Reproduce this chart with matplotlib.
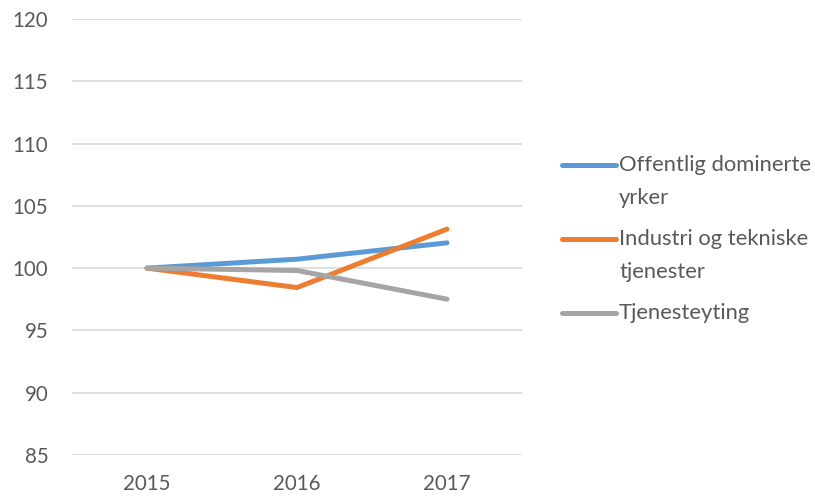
import matplotlib
matplotlib.use("Agg")
import matplotlib.pyplot as plt
from matplotlib.lines import Line2D

years = ["2015", "2016", "2017"]
offentlig = [100, 100.72, 102.03]
industri = [100, 98.44, 103.13]
tjeneste = [100, 99.81, 97.51]
labels = ["Offentlig dominerte\nyrker", "Industri og tekniske\ntjenester", "Tjenesteyting"]
colors = ["#5b9bd5", "#ed7d31", "#a5a5a5"]
yticks = [85, 90, 95, 100, 105, 110, 115, 120]

plt.rcParams['font.family'] = ['Lato', 'DejaVu Sans']
txt = "#595959"

fig = plt.figure(figsize=(8.15, 4.96), dpi=100)
ax = fig.add_axes([72/815, 41/496, 450/815, 436/496])
x = range(len(years))
for vals, c in zip([offentlig, industri, tjeneste], colors):
    ax.plot(x, vals, color=c, lw=3.6, solid_capstyle='round', solid_joinstyle='round')

ax.set_xlim(-0.5, 2.5)
ax.set_ylim(85, 120)
ax.set_yticks(yticks)
ax.set_yticklabels([str(v) for v in yticks])
ax.set_xticks(list(x))
ax.set_xticklabels(years)
ax.grid(axis='y', color='#d9d9d9', lw=1.2)
ax.set_axisbelow(True)
for s in ax.spines.values():
    s.set_visible(False)
ax.tick_params(axis='both', length=0, labelsize=14.8, colors=txt)
ax.tick_params(axis='y', pad=17)
ax.tick_params(axis='x', pad=14)

# legend drawn manually to match first-line alignment
W, H = 815, 496
ys = [165, 239, 313]
for lab, c, yp in zip(labels, colors, ys):
    fy = 1 - yp / H
    fig.add_artist(Line2D([562/W, 616/W], [fy, fy], color=c, lw=3.6,
                          solid_capstyle='round', transform=fig.transFigure))
    lines = lab.split("\n")
    for i, ln in enumerate(lines):
        fig.text(619/W, 1 - (yp + 32.5*i)/H, ln, color=txt, fontsize=15.8,
                 va='center', ha='left')

fig.savefig("out.png", dpi=100)
